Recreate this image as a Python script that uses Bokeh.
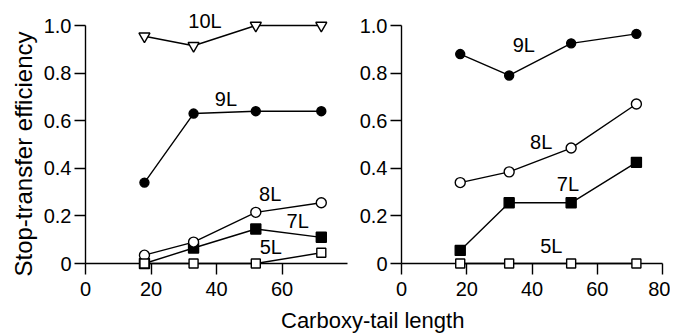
import math
from bokeh.plotting import figure
from bokeh.models import FixedTicker, Range1d, Div
from bokeh.layouts import row, column
from bokeh.embed import file_html
from bokeh.resources import INLINE
from bokeh.core.properties import value

# ---------------- data ----------------
tail_length = [18, 33, 52, 72]

left_10L = [0.955, 0.915, 1.0, 1.0]
left_9L = [0.34, 0.63, 0.64, 0.64]
left_8L = [0.035, 0.09, 0.215, 0.255]
left_7L = [0.0, 0.065, 0.145, 0.11]
left_5L = [0.0, 0.0, 0.0, 0.045]

right_9L = [0.88, 0.79, 0.925, 0.965]
right_8L = [0.34, 0.385, 0.485, 0.67]
right_7L = [0.055, 0.255, 0.255, 0.425]
right_5L = [0.0, 0.0, 0.0, 0.0]

y_ticks = [0, 0.2, 0.4, 0.6, 0.8, 1.0]
y_tick_labels = ["0", "0.2", "0.4", "0.6", "0.8", "1.0"]
left_x_ticks = [0, 20, 40, 60]
right_x_ticks = [0, 20, 40, 60, 80]

# series label anchors (name, x, y)
left_series_labels = [("10L", 36.5, 1.02), ("9L", 42.9, 0.69), ("8L", 56.4, 0.29),
                      ("7L", 64.8, 0.18), ("5L", 56.6, 0.068)]
right_series_labels = [("9L", 37.5, 0.919), ("8L", 42.8, 0.51), ("7L", 51.0, 0.335),
                       ("5L", 45.9, 0.073)]

# y-axis title anchor (data coords of the left panel)
ytitle = ("Stop-transfer efficiency", -18.9, 0.46)

FONT = "Liberation Sans"
LW = 1.4


def style_axes(p, xticks):
    for ax in (p.xaxis[0], p.yaxis[0]):
        ax.axis_line_width = LW
        ax.axis_line_color = "black"
        ax.major_tick_line_width = LW
        ax.major_tick_line_color = "black"
        ax.major_tick_in = 0
        ax.major_tick_out = 11
        ax.minor_tick_line_color = None
        ax.major_label_text_font = FONT
        ax.major_label_text_font_size = "20px"
        ax.major_label_text_color = "black"
    p.xaxis[0].ticker = FixedTicker(ticks=xticks, minor_ticks=[])
    p.xaxis[0].major_label_standoff = 7
    p.yaxis[0].ticker = FixedTicker(ticks=y_ticks, minor_ticks=[])
    p.yaxis[0].major_label_overrides = {t: l for t, l in zip(y_ticks, y_tick_labels)}
    p.yaxis[0].major_label_standoff = 3
    p.xgrid.visible = False
    p.ygrid.visible = False
    p.outline_line_color = None


def add_series(p, ys, marker, filled, size):
    p.line(tail_length, ys, line_color="black", line_width=LW, level="overlay")
    p.scatter(tail_length, ys, marker=marker, size=size,
              fill_color="black" if filled else "white",
              line_color="black", line_width=LW, level="overlay")


def add_labels(p, labels):
    p.text([l[1] for l in labels], [l[2] for l in labels], text=[l[0] for l in labels],
           text_font=value(FONT), text_font_size="20px", text_color="black",
           text_align="center", text_baseline="middle", level="overlay")


# ---------------- left panel ----------------
p1 = figure(width=356, height=305, output_backend="svg", toolbar_location=None,
            x_range=Range1d(0, 80), y_range=Range1d(0, 1.0),
            min_border_left=85, min_border_right=9, min_border_top=25, min_border_bottom=42)
style_axes(p1, left_x_ticks)
add_series(p1, left_10L, "inverted_triangle", False, 11)
add_series(p1, left_9L, "circle", True, 9)
add_series(p1, left_7L, "square", True, 10)
add_series(p1, left_8L, "circle", False, 10)
add_series(p1, left_5L, "square", False, 9)
add_labels(p1, left_series_labels)
p1.text([ytitle[1]], [ytitle[2]], text=[ytitle[0]], angle=math.pi / 2,
        text_font=value(FONT), text_font_size="24px", text_color="black",
        text_align="center", text_baseline="alphabetic", level="overlay")

# ---------------- right panel ----------------
p2 = figure(width=314, height=305, output_backend="svg", toolbar_location=None,
            x_range=Range1d(0, 80), y_range=Range1d(0, 1.0),
            min_border_left=44, min_border_right=8, min_border_top=25, min_border_bottom=42)
style_axes(p2, right_x_ticks)
add_series(p2, right_9L, "circle", True, 9)
add_series(p2, right_7L, "square", True, 10)
add_series(p2, right_8L, "circle", False, 10)
add_series(p2, right_5L, "square", False, 9)
add_labels(p2, right_series_labels)

xlabel = Div(
    text=('<div style="position:relative; left:276px; top:0px; white-space:nowrap; '
          'font-family:\'Liberation Sans\'; font-size:22px; line-height:21px; color:black;">'
          'Carboxy-tail length</div>'),
    width=670, height=20)

layout = column(row(p1, p2), xlabel)
open("out.html", "w").write(file_html(layout, INLINE))
